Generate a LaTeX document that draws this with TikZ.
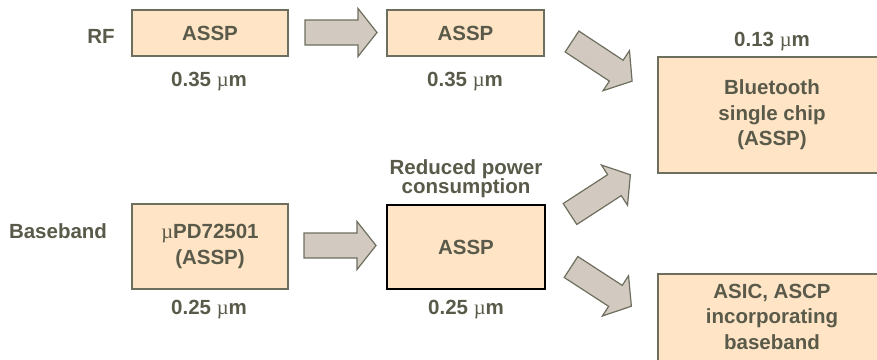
\documentclass[tikz,border=0pt]{standalone}
\usepackage{fontspec}
\setmainfont{Liberation Sans}
\newfontfamily\mufont{Liberation Serif}
\newcommand\um{{\mufont\mdseries µ}m}
\newcommand\mupre{{\mufont\mdseries µ}}
\definecolor{txt}{HTML}{5A5A4A}
\definecolor{brd}{HTML}{6E6E5E}
\definecolor{peach}{HTML}{FFE5C6}
\definecolor{arrfill}{HTML}{D2CAC0}
\begin{document}
\begin{tikzpicture}[x=1pt,y=-1pt,
  lbl/.style={text=txt, font=\bfseries\fontsize{20.5}{25.5}\selectfont, inner sep=0pt, anchor=base, align=center},
  chip/.style={draw=brd, line width=1.5pt, fill=peach, text=txt,
    font=\bfseries\fontsize{20.5}{25.5}\selectfont, align=center, inner sep=0pt},
  barrow/.pic={\draw[draw=brd, line width=1.2pt, fill=arrfill, line join=miter]
    (0,-12.5) -- (53,-12.5) -- (53,-24) -- (72,0) -- (53,24) -- (53,12.5) -- (0,12.5) -- cycle;}]
\useasboundingbox (0,0) rectangle (877,359);

% top row
\node[lbl] (rf) at (101,43) {RF};
\node[chip, minimum width=156pt, minimum height=46pt] (rf1) at (210,33) {ASSP};
\node[lbl] (rf1t) at (209,86) {0.35 \um};
\node[chip, minimum width=157pt, minimum height=46pt] (rf2) at (465.5,33) {ASSP};
\node[lbl] (rf2t) at (465,86) {0.35 \um};

% bluetooth
\node[lbl] (btt) at (772,46) {0.13 \um};
\node[chip, minimum width=228pt, minimum height=116pt] (bt) at (772,115) {Bluetooth\\single chip\\(ASSP)};

% bottom row
\node[lbl] (bb) at (58,238) {Baseband};
\node[chip, minimum width=156pt, minimum height=85pt] (bb1) at (210,246.5) {\mupre PD72501\\(ASSP)};
\node[lbl] (bb1t) at (209,314) {0.25 \um};
\node[lbl, font=\bfseries\fontsize{20.5}{19.5}\selectfont] (rp) at (466,193.5) {Reduced power\\consumption};
\node[chip, draw=black, minimum width=158pt, minimum height=84pt] (bb2) at (466,247) {ASSP};
\node[lbl] (bb2t) at (466,314) {0.25 \um};

% ASIC
\node[chip, minimum width=228pt, minimum height=96pt] (asic) at (772,322) {};
\node[lbl] (asict) at (772,349) {ASIC, ASCP\\incorporating\\baseband};

% block arrows
\pic at (305,32.5) {barrow};
\pic at (304,245.5) {barrow};
\pic[rotate=-33.4] at (572,41.5) {barrow};
\pic[rotate=33] at (570,214) {barrow};
\pic[rotate=-33] at (571,267) {barrow};
\end{tikzpicture}
\end{document}
